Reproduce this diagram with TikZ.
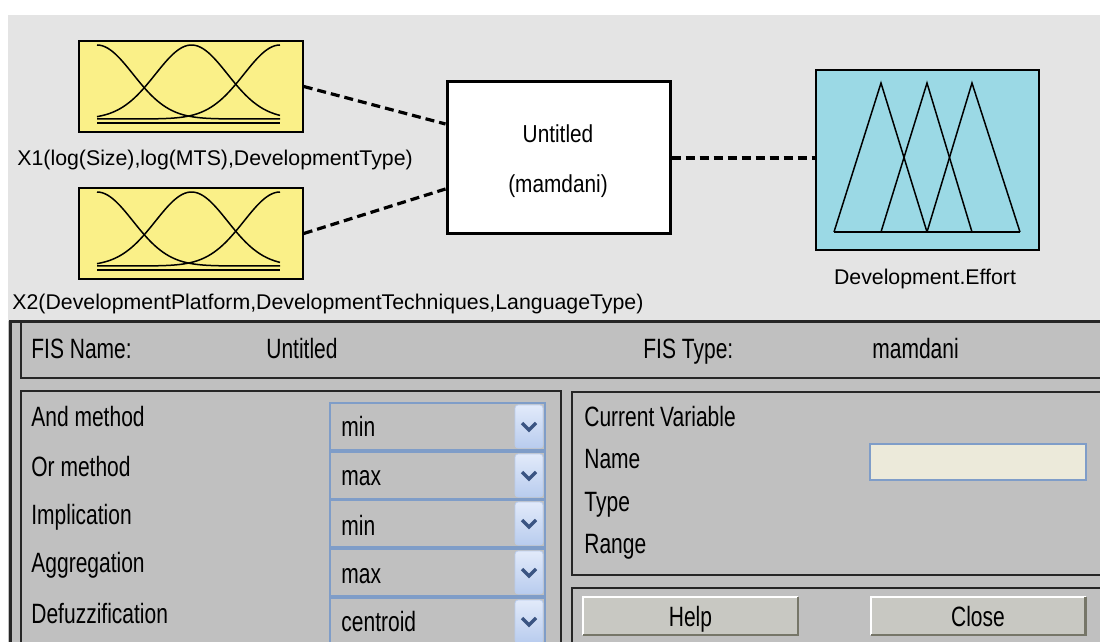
\documentclass[tikz,border=0pt]{standalone}
\usepackage{fontspec}
\setmainfont{Liberation Sans}
\usetikzlibrary{calc}

\definecolor{editorbg}{RGB}{228,228,228}
\definecolor{panelgray}{RGB}{192,192,192}
\definecolor{inyellow}{RGB}{250,240,136}
\definecolor{outblue}{RGB}{155,217,229}
\definecolor{comboedge}{RGB}{127,157,200}
\definecolor{btnhi}{RGB}{226,234,250}
\definecolor{btnlo}{RGB}{184,204,238}
\definecolor{chevblue}{RGB}{58,84,130}
\definecolor{fieldbg}{RGB}{236,234,218}
\definecolor{btnface}{RGB}{200,200,194}
\definecolor{btnshadow}{RGB}{118,118,104}

% the lower panel text is drawn taller than wide
\newcommand{\tallpanel}[1]{\scalebox{1}[1.33]{#1}}
\newcommand{\tallsys}[1]{\scalebox{1}[1.18]{#1}}

\begin{document}
\begin{tikzpicture}[x=0.5pt,y=-0.5pt,
  mfbox/.style={draw=black,fill=inyellow,line width=0.75pt,minimum width=112pt,minimum height=45.5pt,inner sep=0},
  sysbox/.style={draw=black,fill=white,line width=1.5pt,minimum width=111.5pt,minimum height=76pt,inner sep=0},
  outbox/.style={draw=black,fill=outblue,line width=1pt,minimum width=111.5pt,minimum height=90pt,inner sep=0},
  mf/.style={line width=0.75pt},
  link/.style={line width=1.6pt,dash pattern=on 4.5pt off 2.5pt},
  varname/.style={anchor=base west,inner sep=0,font=\fontsize{10.65}{12}\selectfont},
  plabel/.style={anchor=base west,inner sep=0,font=\fontsize{10.5}{12}\selectfont},
  frameline/.style={line width=1pt,draw=black!85},
  combo/.style={draw=comboedge,line width=0.6pt},
  arrowbtn/.style={top color=btnhi,bottom color=btnlo,draw=btnlo,rounded corners=1.5pt},
  chevron/.style={draw=chevblue,line width=1.7pt},
  pushbtn/.style={fill=btnface,minimum width=107.5pt,minimum height=19pt,inner sep=0,outer sep=0,
    text height=10pt,text depth=0pt,font=\fontsize{10.5}{12}\selectfont}]

\useasboundingbox (0,0) rectangle (1100,642);
\clip (0,0) rectangle (1100,642);
\fill[white] (0,0) rectangle (1100,642);
\fill[editorbg] (8,15) rectangle (1100,321);
\fill[panelgray] (8,321) rectangle (1100,642);

% inputs, system and output
\node[mfbox] (x1) at (191,86.5) {};
\node[mfbox] (x2) at (191,233.5) {};
\node[sysbox] (sys) at (558.5,158) {};
\node[outbox] (out) at (927.5,160) {};

% gaussian membership functions
\draw[mf] plot[domain=97:280,samples=70] (\x,{119-74*exp(-0.5*((\x-97)/36)*((\x-97)/36))});
\draw[mf] plot[domain=97:280,samples=70] (\x,{119-74*exp(-0.5*((\x-191.5)/36)*((\x-191.5)/36))});
\draw[mf] plot[domain=97:280,samples=70] (\x,{119-74*exp(-0.5*((\x-280)/36)*((\x-280)/36))});
\draw[mf] (97,123)--(280,123);
\draw[mf] plot[domain=97:280,samples=70] (\x,{266-74*exp(-0.5*((\x-97)/36)*((\x-97)/36))});
\draw[mf] plot[domain=97:280,samples=70] (\x,{266-74*exp(-0.5*((\x-191.5)/36)*((\x-191.5)/36))});
\draw[mf] plot[domain=97:280,samples=70] (\x,{266-74*exp(-0.5*((\x-280)/36)*((\x-280)/36))});
\draw[mf] (97,270)--(280,270);

% triangular output functions
\draw[mf] (834,232)--(881,83)--(927,232);
\draw[mf] (881,232)--(927,83)--(972,232);
\draw[mf] (927,232)--(972,83)--(1020,232);
\draw[mf] (834,232)--(1020,232);

\node[varname] (x1name) at (17,166) {X1(log(Size),log(MTS),DevelopmentType)};
\node[varname] (x2name) at (12,310) {X2(DevelopmentPlatform,DevelopmentTechniques,LanguageType)};
\node[varname,anchor=base] (outname) at (925,285) {Development.Effort};
\node[varname,anchor=base,font=\fontsize{10.4}{12}\selectfont] (sysname) at (558,143) {\tallsys{Untitled}};
\node[varname,anchor=base,font=\fontsize{10.4}{12}\selectfont] (systype) at (558,193) {\tallsys{(mamdani)}};

\coordinate (in1) at ([yshift=17pt]sys.west);
\coordinate (in2) at ([yshift=-15.5pt]sys.west);
\draw[link] (x1.east)--(in1);
\draw[link] (x2.east)--(in2);
\draw[link] (sys.east)--(sys.east -| out.west);

% panel frames
\draw[frameline,line width=1.5pt] (10,642)--(10,322)--(1100,322);
\draw[frameline] (21,322)--(21,378)--(1100,378);
\draw[frameline] (21,650)--(21,391)--(561,391)--(561,650);
\draw[frameline] (1100,392)--(572,392)--(572,575)--(1100,575);
\draw[frameline] (1100,588)--(572,588)--(572,650);

\node[plabel] (fisname) at (31,358) {\tallpanel{FIS Name:}};
\node[plabel] (fisnameval) at (266,358) {\tallpanel{Untitled}};
\node[plabel] (fistype) at (643,358) {\tallpanel{FIS Type:}};
\node[plabel] (fistypeval) at (872,358) {\tallpanel{mamdani}};

% method rows
\node[plabel] (andlbl) at (31,427) {\tallpanel{And method}};
\draw[combo] (330,403) rectangle (545,450);
\shade[arrowbtn] (515,405) rectangle (543,448);
\draw[chevron] (522,423)--(529,430)--(536,423);
\node[plabel] (andval) at (341,437) {\tallpanel{min}};

\node[plabel] (orlbl) at (31,476) {\tallpanel{Or method}};
\draw[combo] (330,452) rectangle (545,499);
\shade[arrowbtn] (515,454) rectangle (543,497);
\draw[chevron] (522,472)--(529,479)--(536,472);
\node[plabel] (orval) at (341,486) {\tallpanel{max}};

\node[plabel] (implbl) at (31,524) {\tallpanel{Implication}};
\draw[combo] (330,500) rectangle (545,547);
\shade[arrowbtn] (515,502) rectangle (543,545);
\draw[chevron] (522,520)--(529,527)--(536,520);
\node[plabel] (impval) at (341,535) {\tallpanel{min}};

\node[plabel] (agglbl) at (31,573) {\tallpanel{Aggregation}};
\draw[combo] (330,549) rectangle (545,596);
\shade[arrowbtn] (515,551) rectangle (543,594);
\draw[chevron] (522,569)--(529,576)--(536,569);
\node[plabel] (aggval) at (341,583) {\tallpanel{max}};

\node[plabel] (deflbl) at (31,623) {\tallpanel{Defuzzification}};
\draw[combo] (330,598) rectangle (545,645);
\shade[arrowbtn] (515,600) rectangle (543,643);
\draw[chevron] (522,618)--(529,625)--(536,618);
\node[plabel] (defval) at (341,632) {\tallpanel{centroid}};

% current variable
\node[plabel] (curvar) at (584,427) {\tallpanel{Current Variable}};
\node[plabel] (namelbl) at (584,468) {\tallpanel{Name}};
\node[plabel] (typelbl) at (584,511) {\tallpanel{Type}};
\node[plabel] (rangelbl) at (584,553) {\tallpanel{Range}};
\draw[fill=fieldbg,draw=comboedge,line width=0.8pt] (870,444) rectangle (1086,480);

% buttons
\node[pushbtn] (help) at (690.5,616) {\tallpanel{Help}};
\node[pushbtn] (close) at (978,616) {\tallpanel{Close}};
\draw[white,line width=1pt] (help.south west)--(help.north west)--(help.north east);
\draw[btnshadow,line width=1.2pt] (help.north east)--(help.south east)--(help.south west);
\draw[white,line width=1pt] (close.south west)--(close.north west)--(close.north east);
\draw[btnshadow,line width=1.2pt] (close.north east)--(close.south east)--(close.south west);
\end{tikzpicture}
\end{document}
